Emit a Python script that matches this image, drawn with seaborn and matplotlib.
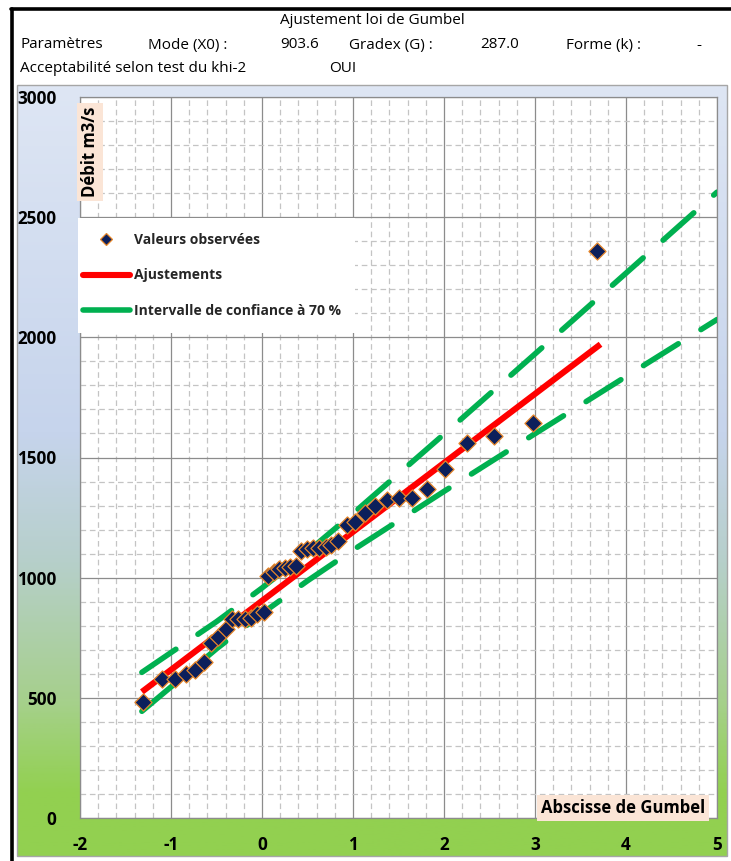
import numpy as np
import pandas as pd
import matplotlib
matplotlib.use("Agg")
import matplotlib.pyplot as plt
import seaborn as sns
from matplotlib.lines import Line2D
from matplotlib.patches import Rectangle
from matplotlib.colors import LinearSegmentedColormap
from matplotlib.ticker import MultipleLocator

# ---- data -------------------------------------------------------------
# observed discharges (m3/s) against their Gumbel reduced variate
gumbel_u = [-1.31, -1.10, -0.96, -0.84, -0.74, -0.64, -0.56, -0.48, -0.40, -0.33,
            -0.26, -0.19, -0.12, -0.06, 0.02, 0.07, 0.13, 0.19, 0.25, 0.31,
            0.37, 0.43, 0.49, 0.56, 0.63, 0.70, 0.76, 0.84, 0.93, 1.02,
            1.13, 1.24, 1.37, 1.50, 1.65, 1.81, 2.01, 2.25, 2.55, 2.98, 3.68]
debit_obs = [482, 580, 579, 598, 615, 648, 728, 754, 785, 826,
             828, 830, 834, 847, 858, 1005, 1022, 1036, 1042, 1046,
             1050, 1110, 1119, 1122, 1123, 1126, 1138, 1152, 1220, 1230,
             1271, 1298, 1322, 1332, 1332, 1370, 1451, 1560, 1591, 1644, 2360]

# fitted Gumbel line (X0 = 903.6, G = 287.0)
fit_u = [-1.32, 3.72]
fit_q = [524.8, 1971.2]

# 70 % confidence band
ci_u = [-1.32, -0.5, 0.0, 0.5, 1.0, 2.0, 3.0, 4.0, 5.0]
ci_upper = [606, 817, 957, 1108, 1267, 1597, 1931, 2267, 2604]
ci_lower = [444, 704, 851, 987, 1115, 1359, 1599, 1837, 2074]

x_ticks = [-2, -1, 0, 1, 2, 3, 4, 5]
y_ticks = [0, 500, 1000, 1500, 2000, 2500, 3000]

header_title = "Ajustement loi de Gumbel"
header_params = [("Paramètres", 20), ("Mode (X0) :", 148), ("903.6", 280),
                 ("Gradex (G) :", 349), ("287.0", 480), ("Forme (k) :", 566), ("-", 696)]
header_test = [("Acceptabilité selon test du khi-2", 20), ("OUI", 329)]

# ---- figure -----------------------------------------------------------
W, H = 731, 861
sns.set_theme(style="white")
plt.rcParams["font.family"] = ["Open Sans", "DejaVu Sans"]

fig = plt.figure(figsize=(W / 100, H / 100), dpi=100)
fig.patch.set_facecolor("white")


def fx(px):
    return px / W


def fy(py):
    return 1 - py / H


# chart area with vertical gradient
cl, cr, ct, cb = 17, 727, 85, 856
bg = fig.add_axes([fx(cl), fy(cb), fx(cr - cl), (cb - ct) / H], zorder=0)
grad_cmap = LinearSegmentedColormap.from_list(
    "chartbg",
    [(0.00, (222 / 255, 230 / 255, 244 / 255)),
     (0.45, (198 / 255, 212 / 255, 236 / 255)),
     (0.62, (182 / 255, 207 / 255, 202 / 255)),
     (0.80, (166 / 255, 208 / 255, 140 / 255)),
     (0.92, (146 / 255, 208 / 255, 80 / 255)),
     (1.00, (146 / 255, 208 / 255, 80 / 255))])
bg.imshow(np.linspace(0, 1, 400).reshape(-1, 1), aspect="auto", cmap=grad_cmap,
          extent=[0, 1, 0, 1], origin="upper")
bg.set_axis_off()
fig.patches.append(Rectangle((fx(cl), fy(cb)), fx(cr - cl), (cb - ct) / H,
                             transform=fig.transFigure, fill=False,
                             edgecolor="#a6a6a6", linewidth=1.0, zorder=1))

# plot area
pl, pr, pt, pb = 80, 717, 97, 818
ax = fig.add_axes([fx(pl), fy(pb), fx(pr - pl), (pb - pt) / H], zorder=2)
ax.set_facecolor("white")
ax.set_xlim(-2, 5)
ax.set_ylim(0, 3000)

ax.xaxis.set_major_locator(MultipleLocator(1))
ax.xaxis.set_minor_locator(MultipleLocator(0.2))
ax.yaxis.set_major_locator(MultipleLocator(500))
ax.yaxis.set_minor_locator(MultipleLocator(100))
ax.grid(which="minor", color="#c4c4c4", linewidth=0.9, linestyle=(0, (4.5, 3)))
ax.grid(which="major", color="#8c8c8c", linewidth=0.9, linestyle="-")
ax.set_axisbelow(True)
for s in ax.spines.values():
    s.set_color("#8c8c8c")
    s.set_linewidth(0.9)

ax.set_xticks(x_ticks)
ax.set_yticks(y_ticks)
ax.set_xticklabels([str(v) for v in x_ticks])
ax.set_yticklabels([str(v) for v in y_ticks])
ax.tick_params(axis="both", which="major", direction="out", length=5, width=0.9,
               color="#8c8c8c", labelsize=12.3)
ax.tick_params(axis="y", pad=12)
ax.tick_params(axis="x", pad=8)
ax.tick_params(which="minor", length=0)
for lab in ax.get_xticklabels() + ax.get_yticklabels():
    lab.set_fontweight("bold")
    lab.set_color("black")

# confidence band
for band in (ci_upper, ci_lower):
    sns.lineplot(x=ci_u, y=band, ax=ax, color="#00b050", linewidth=4.0,
                 estimator=None, sort=False, zorder=3,
                 linestyle=(0, (7.4, 4.8)), dash_capstyle="round")

# fitted line
sns.lineplot(x=fit_u, y=fit_q, ax=ax, color="#ff0000", linewidth=4.4,
             estimator=None, sort=False, zorder=4, solid_capstyle="butt")

# observed values
obs = pd.DataFrame({"u": gumbel_u, "q": debit_obs})
sns.scatterplot(data=obs, x="u", y="q", ax=ax, marker="D", s=76,
                color="#0c1f5b", edgecolor="#e6862a", linewidth=0.9, zorder=5)
ax.set_xlabel("")
ax.set_ylabel("")

# legend: white panel with the entries laid on it
lx0, lx1, ly0, ly1 = 78, 355, 218, 333
fig.patches.append(Rectangle((fx(lx0), fy(ly1)), fx(lx1 - lx0), (ly1 - ly0) / H,
                             transform=fig.transFigure, facecolor="white",
                             edgecolor="none", zorder=5))
handles = [
    Line2D([], [], linestyle="none", marker="D", markersize=6.5,
           markerfacecolor="#0c1f5b", markeredgecolor="#e6862a", markeredgewidth=0.9),
    Line2D([], [], color="#ff0000", linewidth=4.4, solid_capstyle="round"),
    Line2D([], [], color="#00b050", linewidth=4.0, solid_capstyle="round"),
]
labels = ["Valeurs observées", "Ajustements", "Intervalle de confiance à 70 %"]
leg = fig.legend(handles, labels, loc="center left",
                 bbox_to_anchor=(fx(lx0), fy((ly0 + ly1) / 2)),
                 frameon=False, prop={"weight": "bold", "size": 10},
                 handlelength=3.4, handletextpad=0.25, labelspacing=1.55,
                 borderpad=0.0, borderaxespad=0.35)
leg.set_zorder(6)

# axis titles in peach boxes
box = dict(boxstyle="square,pad=0.25", facecolor="#fbe5d6", edgecolor="none")
fig.text(fx(90), fy(152), "Débit m3/s", rotation=90, ha="center", va="center",
         fontsize=12, fontweight="bold", color="black", bbox=box, zorder=7)
fig.text(fx(623), fy(808), "Abscisse de Gumbel", ha="center", va="center",
         fontsize=12, fontweight="bold", color="black", bbox=box, zorder=7)

# header
fig.text(fx(372), fy(20), header_title, ha="center", va="center",
         fontsize=11, color="black")
for txt, x in header_params:
    fig.text(fx(x), fy(45), txt, ha="left", va="center", fontsize=11, color="black")
for txt, x in header_test:
    fig.text(fx(x), fy(68), txt, ha="left", va="center", fontsize=11, color="black")

# black frame lines
fig.add_artist(Line2D([fx(12), fx(12)], [0, fy(9)], color="black", linewidth=2.6,
                      transform=fig.transFigure, zorder=8))
fig.add_artist(Line2D([fx(11), 1], [fy(9), fy(9)], color="black", linewidth=2.6,
                      transform=fig.transFigure, zorder=8))

fig.savefig("out.png", dpi=100)
